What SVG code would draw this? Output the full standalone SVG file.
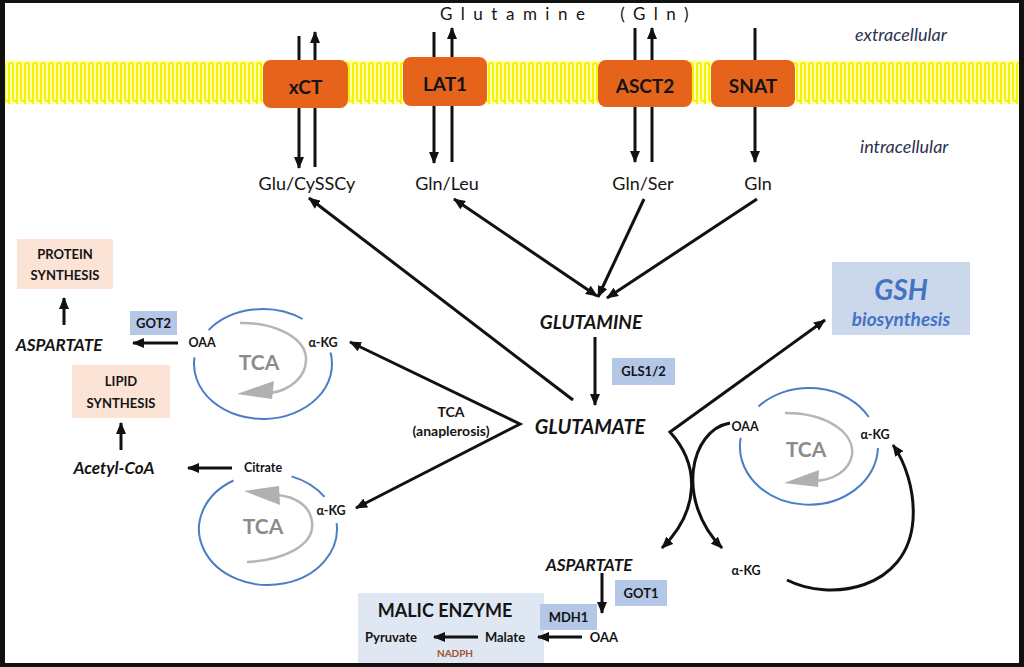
<svg xmlns="http://www.w3.org/2000/svg" width="1024" height="667" viewBox="0 0 1024 667">
<defs>
<marker id="ah" viewBox="0 0 12 10" refX="11" refY="5" markerWidth="12" markerHeight="10" markerUnits="userSpaceOnUse" orient="auto-start-reverse">
<path d="M0,0 L12,5 L0,10 z" fill="#111"/>
</marker>
<pattern id="mem" x="0" y="60" width="8" height="44" patternUnits="userSpaceOnUse">
<rect width="8" height="44" fill="#ffffb8"/>
<path d="M1,44 V5 A2,2 0 0 1 5,5 V39 A2,2 0 0 0 9,39" fill="none" stroke="#f4f400" stroke-width="2"/>
<path d="M-3,39 A2,2 0 0 0 1,39" fill="none" stroke="#f4f400" stroke-width="2"/>
</pattern>
<style>
text{font-family:Lato,"Liberation Sans",sans-serif;fill:#141414}
.lbl{font-size:18px;text-anchor:middle}
.tr{font-size:19px;font-weight:bold;text-anchor:middle}
.big{font-weight:bold;font-style:italic;text-anchor:middle}
.sm{font-size:12.5px;font-weight:bold;text-anchor:middle}
.box{font-size:13px;font-weight:bold;text-anchor:middle}
.tca{font-size:21px;font-weight:bold;fill:#8c8c8c;text-anchor:middle}
.side{font-size:18px;font-style:italic;fill:#2c3350;text-anchor:start}
.ln{fill:none;stroke:#111;stroke-width:3;marker-end:url(#ah)}
.cyc{fill:none;stroke:#4a7ec4;stroke-width:2}
.gr{fill:none;stroke:#b5b5b5;stroke-width:2.5}
.grh{fill:#b0b0b0}
.orange{fill:#e5631b}
.blue{fill:#b4c7e7}
.peach{fill:#fbe3d6}
</style>
</defs>
<rect x="0" y="0" width="1024" height="667" fill="#111"/>
<rect x="5" y="3" width="1014" height="660" fill="#fff"/>
<rect id="membrane" x="5" y="60" width="1014" height="44" fill="url(#mem)"/>

<text x="440" y="20" style="font-size:17px;letter-spacing:8.5px">Glutamine <tspan dx="14">(Gln)</tspan></text>
<text class="side" x="855" y="41">extracellular</text>
<text class="side" x="860" y="153">intracellular</text>

<g id="malic">
<rect x="358" y="593" width="186" height="70" fill="#dfe7f2"/>
<text class="big" x="445" y="617" style="font-size:18px;font-style:normal">MALIC ENZYME</text>
<text class="sm" x="391" y="642" style="font-size:13px">Pyruvate</text>
<text class="sm" x="505" y="642" style="font-size:13px">Malate</text>
<text class="sm" x="455" y="657" style="font-size:10px;fill:#a0522d">NADPH</text>
</g>

<g id="connectors">
<line class="ln" x1="299" y1="36" x2="299" y2="168"/>
<line class="ln" x1="315" y1="167" x2="315" y2="32"/>
<line class="ln" x1="434" y1="32" x2="434" y2="163"/>
<line class="ln" x1="452" y1="162" x2="452" y2="28"/>
<line class="ln" x1="635" y1="28" x2="635" y2="162"/>
<line class="ln" x1="652" y1="162" x2="652" y2="28"/>
<line class="ln" x1="755" y1="28" x2="755" y2="162"/>

<line class="ln" x1="573" y1="400" x2="309" y2="198"/>
<line class="ln" x1="454" y1="199" x2="597" y2="296" style="marker-start:url(#ah)"/>
<line class="ln" x1="644" y1="199" x2="598" y2="297"/>
<line class="ln" x1="757" y1="199" x2="607" y2="298"/>
<line class="ln" x1="595" y1="337" x2="595" y2="405"/>

<path class="ln" d="M350,342 L520,424 L356,508" style="marker-end:url(#ah);marker-start:url(#ah)"/>
<path class="ln" d="M825,320 L670,432 C700,465 700,510 662,548" style="marker-end:url(#ah);marker-start:url(#ah)"/>
<path class="ln" d="M730,423 C690,430 675,500 722,548"/>
<path class="ln" d="M787,580 C830,602 908,590 913,520 C915,490 905,462 893,445"/>

<line class="ln" x1="602" y1="573" x2="602" y2="613"/>
<line class="ln" x1="582" y1="637" x2="538" y2="637"/>
<line class="ln" x1="478" y1="637" x2="434" y2="637"/>

<line class="ln" x1="178" y1="343" x2="133" y2="343"/>
<line class="ln" x1="64" y1="325" x2="64" y2="298"/>
<line class="ln" x1="121" y1="450" x2="121" y2="423"/>
<line class="ln" x1="232" y1="468" x2="188" y2="468"/>
</g>

<g id="xCT"><rect class="orange" x="263" y="60" width="85" height="48" rx="8"/><text class="tr" x="305.5" y="94">xCT</text></g>
<g id="LAT1"><rect class="orange" x="403" y="57" width="84" height="49" rx="8"/><text class="tr" x="445" y="91">LAT1</text></g>
<g id="ASCT2"><rect class="orange" x="598" y="60" width="94" height="47" rx="8"/><text class="tr" x="645" y="93">ASCT2</text></g>
<g id="SNAT"><rect class="orange" x="711" y="60" width="84" height="47" rx="8"/><text class="tr" x="753" y="93">SNAT</text></g>

<g id="glu-cyssy"><text class="lbl" x="307" y="190">Glu/CySSCy</text></g>
<g id="gln-leu"><text class="lbl" x="447" y="190">Gln/Leu</text></g>
<g id="gln-ser"><text class="lbl" x="643" y="190">Gln/Ser</text></g>
<g id="gln"><text class="lbl" x="758" y="190">Gln</text></g>

<g id="glutamine"><text class="big" x="591" y="329" style="font-size:19px">GLUTAMINE</text></g>
<g id="gls"><rect class="blue" x="612" y="358" width="63" height="27"/><text class="box" x="643.5" y="376">GLS1/2</text></g>
<g id="glutamate"><text class="big" x="590" y="434" style="font-size:20px">GLUTAMATE</text></g>
<g id="anaplerosis"><text class="box" x="451" y="417" style="font-size:14px">TCA</text><text class="box" x="451" y="436" style="font-size:14px">(anaplerosis)</text></g>

<g id="gsh"><rect x="832" y="262" width="138" height="73" fill="#cbd8ec"/>
<text class="big" x="901" y="300" style="font-size:28px;fill:#4472c4">GSH</text>
<text class="big" x="901" y="326" style="font-size:19px;fill:#4472c4">biosynthesis</text></g>

<g id="tca-upper">
<path class="cyc" d="M208.6,330.1 A69,55 0 0 1 302.6,319.0"/>
<path class="cyc" d="M330.5,352.6 A69,55 0 1 1 194.5,357.3"/>
<path class="gr" d="M240,323 C275,322 305,338 306,358 C307,378 288,391 270,393"/>
<polygon class="grh" points="237,394 274,381 272,399"/>
<text class="tca" x="259" y="370">TCA</text>
<text class="sm" x="202" y="347">OAA</text>
<text class="sm" x="323" y="347">α-KG</text>
</g>

<g id="tca-lower">
<path class="cyc" d="M291.6,476.4 A69,56 0 0 1 324.5,496.9"/>
<path class="cyc" d="M336.6,523.1 A69,56 0 1 1 233.5,480.5"/>
<path class="gr" d="M247,562 C285,560 315,545 312,522 C310,505 295,497 278,495"/>
<polygon class="grh" points="244,491 279,486 280,505"/>
<text class="tca" x="263" y="534">TCA</text>
<text class="sm" x="263" y="472">Citrate</text>
<text class="sm" x="331" y="515">α-KG</text>
</g>

<g id="tca-right">
<path class="cyc" d="M758.5,406.4 A69,58 0 0 1 868.8,417"/>
<path class="cyc" d="M877.9,448 A69,58 0 1 1 740.7,437.9"/>
<path class="gr" d="M785,413 C830,413 855,435 852,455 C849,472 832,480 815,481"/>
<polygon class="grh" points="784,483 819,470 818,487"/>
<text class="tca" x="806" y="457">TCA</text>
<text class="sm" x="745" y="431">OAA</text>
<text class="sm" x="875" y="439">α-KG</text>
</g>

<g id="akg-lower"><text class="sm" x="746" y="575">α-KG</text></g>
<g id="aspartate-right"><text class="big" x="589" y="571" style="font-size:17px">ASPARTATE</text></g>
<g id="got1"><rect class="blue" x="615" y="580" width="52" height="26"/><text class="box" x="641" y="598">GOT1</text></g>
<g id="mdh1"><rect class="blue" x="540" y="604" width="57" height="26"/><text class="box" x="568.5" y="622">MDH1</text></g>
<g id="oaa-right"><text class="sm" x="604" y="642" style="font-size:13px">OAA</text></g>

<g id="protein"><rect class="peach" x="17" y="239" width="96" height="50"/><text class="box" x="65" y="259">PROTEIN</text><text class="box" x="65" y="280">SYNTHESIS</text></g>
<g id="aspartate-left"><text class="big" x="59" y="351" style="font-size:17px">ASPARTATE</text></g>
<g id="got2"><rect class="blue" x="130" y="311" width="47" height="24"/><text class="box" x="153.5" y="328">GOT2</text></g>
<g id="lipid"><rect class="peach" x="72" y="365" width="98" height="53"/><text class="box" x="121" y="386">LIPID</text><text class="box" x="121" y="408">SYNTHESIS</text></g>
<g id="acetyl"><text class="big" x="114" y="474" style="font-size:17px">Acetyl-CoA</text></g>
</svg>
